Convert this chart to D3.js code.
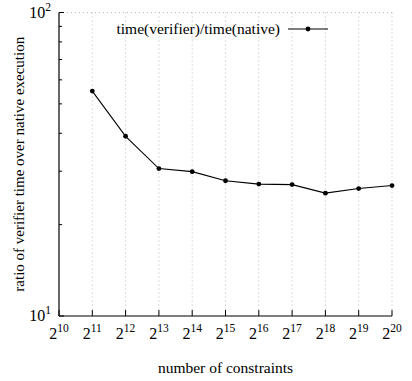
<!DOCTYPE html>
<html><head><meta charset="utf-8">
<script src="https://cdn.jsdelivr.net/npm/d3@7"></script>
<style>
body{margin:0;background:#fff;}
</style></head>
<body><svg id="c" width="412" height="381" font-family="'Liberation Serif', 'DejaVu Serif', serif"></svg>
<script>
const exponents = [11,12,13,14,15,16,17,18,19,20];
const ratios = [55.1,39.1,30.6,29.9,27.9,27.2,27.1,25.4,26.3,26.9];
const xTickExps = [10,11,12,13,14,15,16,17,18,19,20];
const yMajor = [10,100];
const yMinor = [20,30,40,50,60,70,80,90];
const seriesLabel = "time(verifier)/time(native)";
const xTitle = "number of constraints";
const yTitle = "ratio of verifier time over native execution";

const svg = d3.select("#c");
const L=59, R=392, T=12.5, B=316;
const x = d3.scaleLinear().domain([10,20]).range([L,R]);
const y = d3.scaleLog().domain([10,100]).range([B,T]);

// grid
const g = svg.append("g");
g.selectAll("line.vg").data(xTickExps.slice(1)).enter().append("line")
  .attr("x1",d=>x(d)).attr("x2",d=>x(d)).attr("y1",T).attr("y2",B)
  .attr("stroke","#bbb").attr("stroke-width",1).attr("stroke-dasharray","1,3");
g.append("line").attr("x1",L).attr("x2",R).attr("y1",y(100)).attr("y2",y(100))
  .attr("stroke","#bbb").attr("stroke-width",1).attr("stroke-dasharray","1,3");

// axes lines
svg.append("line").attr("x1",L).attr("x2",L).attr("y1",T).attr("y2",B).attr("stroke","#000").attr("stroke-width",1.2);
svg.append("line").attr("x1",L).attr("x2",R).attr("y1",B).attr("y2",B).attr("stroke","#000").attr("stroke-width",1.2);

// x ticks
svg.selectAll("line.xt").data(xTickExps).enter().append("line")
  .attr("x1",d=>x(d)).attr("x2",d=>x(d)).attr("y1",B).attr("y2",B-6).attr("stroke","#000");
const xl = svg.selectAll("text.xl").data(xTickExps).enter().append("text")
  .attr("x",d=>x(d)).attr("y",339).attr("text-anchor","middle").attr("font-size","16px");
xl.append("tspan").text("2");
xl.append("tspan").attr("dy","-7").attr("font-size","11.5px").text(d=>d);

// y ticks
svg.selectAll("line.ym").data(yMajor).enter().append("line")
  .attr("x1",L).attr("x2",L+5).attr("y1",d=>y(d)).attr("y2",d=>y(d)).attr("stroke","#000");
svg.selectAll("line.yn").data(yMinor).enter().append("line")
  .attr("x1",L).attr("x2",L+3).attr("y1",d=>y(d)).attr("y2",d=>y(d)).attr("stroke","#000");
const yl = svg.selectAll("text.yl").data(yMajor).enter().append("text")
  .attr("x",51).attr("y",d=>y(d)+5).attr("text-anchor","end").attr("font-size","16px");
yl.append("tspan").text("10");
yl.append("tspan").attr("dy","-7").attr("font-size","11.5px").text(d=>Math.round(Math.log10(d)));

// line
svg.append("path").datum(exponents.map((e,i)=>[e,ratios[i]]))
  .attr("fill","none").attr("stroke","#000").attr("stroke-width",1.1)
  .attr("d",d3.line().x(d=>x(d[0])).y(d=>y(d[1])));
svg.selectAll("circle.p").data(exponents.map((e,i)=>[e,ratios[i]])).enter().append("circle")
  .attr("cx",d=>x(d[0])).attr("cy",d=>y(d[1])).attr("r",2.4).attr("fill","#000");

// legend
svg.append("text").attr("x",280).attr("y",34).attr("text-anchor","end").attr("font-size","15.5px").text(seriesLabel);
svg.append("line").attr("x1",288).attr("x2",328).attr("y1",29).attr("y2",29).attr("stroke","#000").attr("stroke-width",1.1);
svg.append("circle").attr("cx",308).attr("cy",29).attr("r",2.4).attr("fill","#000");

// titles
svg.append("text").attr("x",(L+R)/2).attr("y",373).attr("text-anchor","middle").attr("font-size","15.5px").text(xTitle);
svg.append("text").attr("transform",`translate(24,${(T+B)/2}) rotate(-90)`).attr("text-anchor","middle").attr("font-size","15px").text(yTitle);
</script></body></html>
